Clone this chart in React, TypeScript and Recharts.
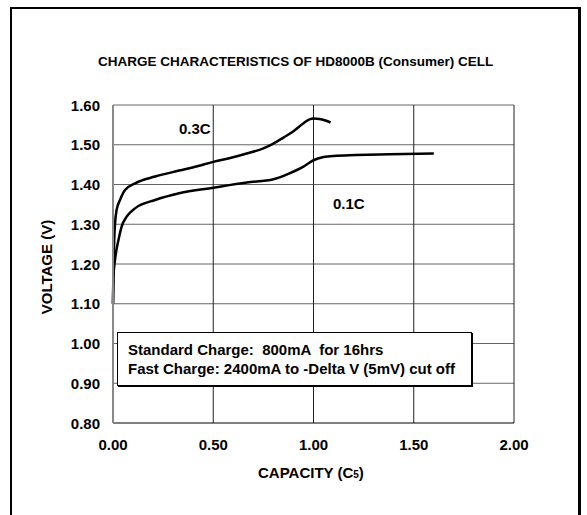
import React from "react";
import { Line, LineChart, XAxis, YAxis } from "recharts";

// capacity (C5) vs voltage (V)
const rate03C = [
  { x: 0, v: 1.1 },
  { x: 0.003, v: 1.2 },
  { x: 0.006, v: 1.26 },
  { x: 0.01, v: 1.3 },
  { x: 0.018, v: 1.336 },
  { x: 0.035, v: 1.361 },
  { x: 0.06, v: 1.386 },
  { x: 0.11, v: 1.403 },
  { x: 0.21, v: 1.42 },
  { x: 0.33, v: 1.435 },
  { x: 0.42, v: 1.446 },
  { x: 0.5, v: 1.457 },
  { x: 0.58, v: 1.466 },
  { x: 0.667, v: 1.478 },
  { x: 0.75, v: 1.491 },
  { x: 0.8, v: 1.503 },
  { x: 0.85, v: 1.518 },
  { x: 0.9, v: 1.534 },
  { x: 0.95, v: 1.554 },
  { x: 0.98, v: 1.564 },
  { x: 1.0, v: 1.566 },
  { x: 1.03, v: 1.565 },
  { x: 1.06, v: 1.561 },
  { x: 1.085, v: 1.556 },
];

const rate01C = [
  { x: 0, v: 1.1 },
  { x: 0.002, v: 1.168 },
  { x: 0.01, v: 1.21 },
  { x: 0.027, v: 1.26 },
  { x: 0.043, v: 1.294 },
  { x: 0.068, v: 1.319 },
  { x: 0.11, v: 1.34 },
  { x: 0.21, v: 1.361 },
  { x: 0.33, v: 1.378 },
  { x: 0.5, v: 1.392 },
  { x: 0.667, v: 1.405 },
  { x: 0.8, v: 1.413 },
  { x: 0.88, v: 1.428 },
  { x: 0.95, v: 1.445 },
  { x: 1.0, v: 1.461 },
  { x: 1.05, v: 1.469 },
  { x: 1.1, v: 1.472 },
  { x: 1.21, v: 1.474 },
  { x: 1.38, v: 1.476 },
  { x: 1.6, v: 1.478 },
];

const xTicks = [0, 0.5, 1, 1.5, 2];
const yTicks = [0.8, 0.9, 1.0, 1.1, 1.2, 1.3, 1.4, 1.5, 1.6];

const X_MIN = xTicks[0];
const X_MAX = xTicks[xTicks.length - 1];
const Y_MIN = yTicks[0];
const Y_MAX = yTicks[yTicks.length - 1];

// gridlines built from the tick lists, drawn as two-point series
const hGrid = yTicks.slice(1).map((t) => [
  { x: X_MIN, v: t },
  { x: X_MAX, v: t },
]);
const vGrid = xTicks.slice(1).map((t) => [
  { x: t, v: Y_MIN },
  { x: t, v: Y_MAX },
]);

const FONT = '"Liberation Sans", Arial, sans-serif';

const YTick = (props: any) => {
  const { x, y, payload } = props;
  return (
    <text
      x={x}
      y={y}
      textAnchor="end"
      dominantBaseline="central"
      fontFamily={FONT}
      fontWeight="bold"
      fontSize={15}
      fill="#000"
    >
      {payload.value.toFixed(2)}
    </text>
  );
};

const XTick = (props: any) => {
  const { x, y, payload } = props;
  return (
    <text
      x={x}
      y={y}
      dy="0.71em"
      textAnchor="middle"
      fontFamily={FONT}
      fontWeight="bold"
      fontSize={15}
      fill="#000"
    >
      {payload.value.toFixed(2)}
    </text>
  );
};

const abs = (left: number, top: number, extra: React.CSSProperties = {}) =>
  ({
    position: "absolute",
    left,
    top,
    whiteSpace: "nowrap",
    lineHeight: "18px",
    ...extra,
  }) as React.CSSProperties;

export default function App() {
  return (
    <div
      style={{
        position: "absolute",
        left: 0,
        top: 0,
        width: 587,
        height: 515,
        overflow: "hidden",
        background: "#fff",
        fontFamily: FONT,
        fontWeight: "bold",
        color: "#000",
      }}
    >
      <div
        style={{
          position: "absolute",
          left: 10,
          top: 7,
          width: 566,
          height: 540,
          borderLeft: "2px solid #000",
          borderTop: "2px solid #000",
          borderRight: "3px solid #000",
        }}
      />
      <LineChart
        width={587}
        height={515}
        margin={{ top: 105, right: 73, bottom: 62, left: 53 }}
      >
        <XAxis
          type="number"
          dataKey="x"
          domain={[X_MIN, X_MAX]}
          ticks={xTicks}
          tickLine={false}
          tickSize={0}
          tickMargin={16}
          axisLine={{ stroke: "#000", strokeWidth: 1 }}
          height={30}
          tick={<XTick />}
        />
        <YAxis
          type="number"
          dataKey="v"
          domain={[Y_MIN, Y_MAX]}
          ticks={yTicks}
          tickLine={false}
          tickSize={0}
          tickMargin={13}
          axisLine={{ stroke: "#888", strokeWidth: 2 }}
          width={60}
          tick={<YTick />}
        />
        {hGrid.map((d, i) => (
          <Line
            key={`h${i}`}
            data={d}
            dataKey="v"
            type="linear"
            stroke="#666"
            strokeWidth={1}
            dot={false}
            activeDot={false}
            isAnimationActive={false}
          />
        ))}
        {vGrid.map((d, i) => (
          <Line
            key={`v${i}`}
            data={d}
            dataKey="v"
            type="linear"
            stroke="#222"
            strokeWidth={1}
            dot={false}
            activeDot={false}
            isAnimationActive={false}
          />
        ))}
        <Line
          data={rate03C}
          dataKey="v"
          type="monotone"
          stroke="#000"
          strokeWidth={2.5}
          dot={false}
          isAnimationActive={false}
        />
        <Line
          data={rate01C}
          dataKey="v"
          type="monotone"
          stroke="#000"
          strokeWidth={2.5}
          dot={false}
          isAnimationActive={false}
        />
      </LineChart>

      <div style={abs(98, 53, { fontSize: 13.5 })}>
        CHARGE CHARACTERISTICS OF HD8000B (Consumer) CELL
      </div>
      <div style={abs(179, 120, { fontSize: 15 })}>0.3C</div>
      <div style={abs(333, 195, { fontSize: 15 })}>0.1C</div>
      <div style={abs(258, 464, { fontSize: 15 })}>
        CAPACITY (C<span style={{ fontSize: 10 }}>5</span>)
      </div>
      <div
        style={abs(-28, 258, {
          fontSize: 15,
          width: 150,
          textAlign: "center",
          transform: "rotate(-90deg)",
        })}
      >
        VOLTAGE (V)
      </div>
      <div
        style={{
          position: "absolute",
          left: 117,
          top: 332,
          width: 355,
          height: 54,
          border: "1px solid #000",
          boxShadow: "1px 1px 0 #000",
          background: "#fff",
          fontSize: 15,
          lineHeight: "19px",
          padding: "7px 0 0 10px",
          boxSizing: "border-box",
          whiteSpace: "pre",
        }}
      >
        {"Standard Charge:  800mA  for 16hrs\nFast Charge: 2400mA to -Delta V (5mV) cut off"}
      </div>
    </div>
  );
}
